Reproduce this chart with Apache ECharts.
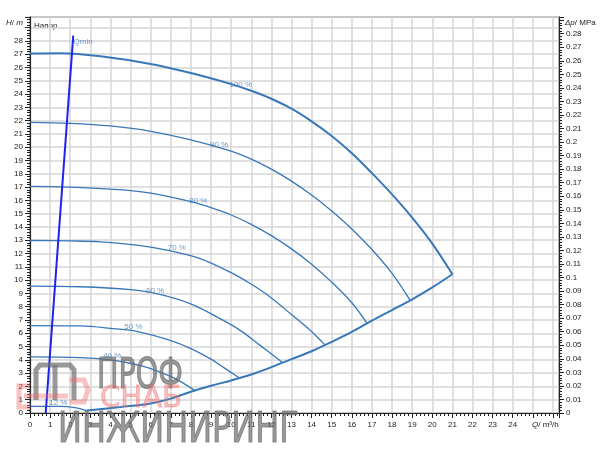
<!DOCTYPE html>
<html><head><meta charset="utf-8">
<script src="https://cdn.jsdelivr.net/npm/echarts@6/dist/echarts.min.js"></script>
<style>html,body{margin:0;padding:0;background:#fff}#c{width:600px;height:455px}</style>
</head><body><div id="c"></div>
<script>
// Pump curves: [Q m3/h, H m]
const curve100 = [[0,27.05],[1.5,27.08],[3.5,26.85],[6,26.27],[8,25.58],[10,24.75],[11,24.25],[12,23.65],[13,22.9],[14,21.95],[15,20.85],[16,19.55],[17,18.05],[18,16.45],[19,14.7],[20,12.75],[21,10.44]];
const curve90 = [[0,21.87],[2,21.8],[4,21.6],[6,21.2],[8,20.55],[10,19.7],[11,19.1],[12,18.35],[13,17.45],[14,16.4],[15,15.2],[16,13.85],[17,12.3],[18,10.5],[18.9,8.47]];
const curve80 = [[0,17.05],[2,17.0],[4,16.85],[6,16.55],[8,15.9],[9,15.45],[10,14.9],[11,14.2],[12,13.35],[13,12.35],[14,11.2],[15,9.85],[16,8.3],[16.75,6.77]];
const curve70 = [[0,12.98],[2,12.95],[3.5,12.88],[5.5,12.6],[7,12.2],[8.46,11.62],[9.95,10.6],[10.95,9.74],[11.94,8.73],[12.94,7.48],[13.93,6.22],[14.68,5.09]];
const curve60 = [[0,9.55],[2.5,9.5],[5,9.28],[6.3,8.98],[7.96,8.23],[9.45,7.1],[10.45,6.22],[11.44,5.09],[12.52,3.84]];
const curve50 = [[0,6.58],[2.5,6.55],[4.15,6.35],[5.3,6.15],[6.97,5.47],[8,4.85],[9,4.05],[9.6,3.45],[10.41,2.63]];
const curve40 = [[0,4.22],[2.5,4.17],[4,4.0],[4.8,3.8],[5.6,3.52],[6.4,3.12],[7.2,2.6],[8.17,1.72]];
const curve12 = [[0,0.5],[1.5,0.5],[2.24,0.4],[2.82,0.18]];
const boundary = [[2.82,0.18],[4.5,0.45],[6,0.72],[7,1.08],[8,1.6],[9,2.05],[10,2.45],[11,2.9],[12,3.45],[13,4.05],[14,4.65],[15,5.35],[16,6.1],[17,6.95],[18,7.75],[19,8.55],[20,9.45],[21,10.44]];
const qminLine = [[0.78,0],[2.15,28.4]];
// label anchors [Q, H, text]
const curveLabels = [[10.48,24.72,'100 %'],[9.4,20.22,'90 %'],[8.36,16.0,'80 %'],[7.3,12.42,'70 %'],[6.22,9.18,'60 %'],[5.14,6.52,'50 %'],[4.09,4.29,'40 %'],[1.41,0.78,'12 %'],[2.64,27.92,'Qmin']];
// axes
const qMax = 26.3, qLastLabel = 24;
const hMax = 29.8, hLastLabel = 28;
const mPerMPa = 0.00981;
const pLastLabel = 0.28;

const blue = '#3878b8', lblBlue = '#4a80b8';
const FONT = 'Liberation Sans, Arial, sans-serif';

function line(data, w, color) {
  return {type:'line', data, showSymbol:false, smooth:0.35, silent:true,
    lineStyle:{width:w, color:color||blue}, z:3};
}

const chart = echarts.init(document.getElementById('c'), null, {renderer:'canvas'});
const tickCommon = {show:true, inside:false, length:5, lineStyle:{color:'#222', width:1}};
const minorCommon = {show:true, splitNumber:5, length:3, lineStyle:{color:'#222', width:1}};
const wmGray = 'rgba(110,110,110,0.7)', wmRed = 'rgba(238,110,110,0.42)';
chart.setOption({
  animation:false,
  grid:{left:30, top:17, width:529, height:396, show:true, borderColor:'#333', borderWidth:1.2, containLabel:false},
  xAxis:{type:'value', min:0, max:qMax, interval:1,
    axisLine:{show:true, onZero:false, lineStyle:{color:'#222', width:1.2}},
    axisTick:tickCommon, minorTick:minorCommon,
    axisLabel:{fontSize:8, color:'#222', fontFamily:FONT, margin:8, showMaxLabel:false,
      formatter:v => (v <= qLastLabel && Math.abs(v-Math.round(v))<1e-6) ? String(v) : ''},
    splitLine:{show:true, lineStyle:{color:'#d6d6d6', width:1.5}}},
  yAxis:[
    {type:'value', min:0, max:hMax, interval:1, position:'left',
      axisLine:{show:true, onZero:false, lineStyle:{color:'#222', width:1.2}},
      axisTick:tickCommon, minorTick:minorCommon,
      axisLabel:{fontSize:8, color:'#222', fontFamily:FONT, margin:7,
        formatter:v => (v <= hLastLabel && Math.abs(v-Math.round(v))<1e-6) ? String(v) : ''},
      splitLine:{show:true, lineStyle:{color:'#d6d6d6', width:1.5}}},
    {type:'value', min:0, max:hMax*mPerMPa, interval:0.01, position:'right',
      axisLine:{show:true, onZero:false, lineStyle:{color:'#222', width:1.2}},
      axisTick:tickCommon, minorTick:minorCommon,
      axisLabel:{fontSize:8, color:'#222', fontFamily:FONT, margin:7,
        formatter:v => (v <= pLastLabel + 1e-6) ? String(+v.toFixed(2)) : ''},
      splitLine:{show:false}}
  ],
  series:[
    line(curve100, 2),
    line(curve90, 1.3),
    line(curve80, 1.3),
    line(curve70, 1.3),
    line(curve60, 1.3),
    line(curve50, 1.3),
    line(curve40, 1.3),
    line(curve12, 1.3),
    line(boundary, 2),
    {type:'line', data:qminLine, showSymbol:false, silent:true, lineStyle:{width:2, color:'#1f22f0'}, z:4},
    {type:'scatter', data:curveLabels, symbolSize:0, silent:true, z:5,
      label:{show:true, position:'inside', formatter:p => p.data[2], fontSize:8, color:lblBlue, fontFamily:FONT}}
  ],
  graphic:[
    {type:'text', left:6, top:19, style:{rich:{i:{fontStyle:'italic', fontSize:8, fontFamily:FONT, fill:'#222'}, n:{fontSize:8, fontFamily:FONT, fill:'#222'}}, text:'{i|H}{n|/ }{i|m}'}},
    {type:'text', left:34, top:22, style:{text:'Напор', fontSize:8, fontFamily:FONT, fill:'#222'}},
    {type:'text', left:565, top:19, style:{rich:{i:{fontStyle:'italic', fontSize:8, fontFamily:FONT, fill:'#222'}, n:{fontSize:8, fontFamily:FONT, fill:'#222'}}, text:'{i|Δp}{n|/ MPa}'}},
    {type:'text', left:532, top:421, style:{rich:{i:{fontStyle:'italic', fontSize:8, fontFamily:FONT, fill:'#222'}, n:{fontSize:8, fontFamily:FONT, fill:'#222'}}, text:'{i|Q}{n|/ m³/h}'}},
    // watermark logo (approximate)
    {type:'polyline', z:50, shape:{points:[[36,400],[36,370],[40,365],[70,365],[74,370],[74,400]]},
      style:{fill:null, stroke:wmGray, lineWidth:5}},
    {type:'polyline', z:50, shape:{points:[[55,365],[55,400]]}, style:{fill:null, stroke:wmGray, lineWidth:5}},
    {type:'polyline', z:50, shape:{points:[[30,386],[19,386],[19,407],[30,407]]}, style:{fill:null, stroke:wmRed, lineWidth:5}},
    {type:'polyline', z:50, shape:{points:[[24,396],[68,396]]}, style:{fill:null, stroke:wmRed, lineWidth:5}},
    {type:'polyline', z:50, shape:{points:[[70,380],[84,380],[88,390],[84,402],[70,402]]}, style:{fill:null, stroke:wmRed, lineWidth:5}},
    {type:'text', x:97, y:356, scaleX:0.68, z:50, style:{text:'ПРОФ', font:'42px DejaVu Sans', fill:wmGray, stroke:wmGray, lineWidth:1.2}},
    {type:'text', x:100, y:384, scaleX:0.97, z:50, style:{text:'СНАБ', font:'30px DejaVu Sans', fill:wmRed, stroke:wmRed, lineWidth:1}},
    {type:'text', x:58, y:410, scaleX:0.76, z:50, style:{text:'ИНЖИНИРИНГ', font:'42px DejaVu Sans', fill:wmGray, stroke:wmGray, lineWidth:1.2}}
  ]
});
</script></body></html>
